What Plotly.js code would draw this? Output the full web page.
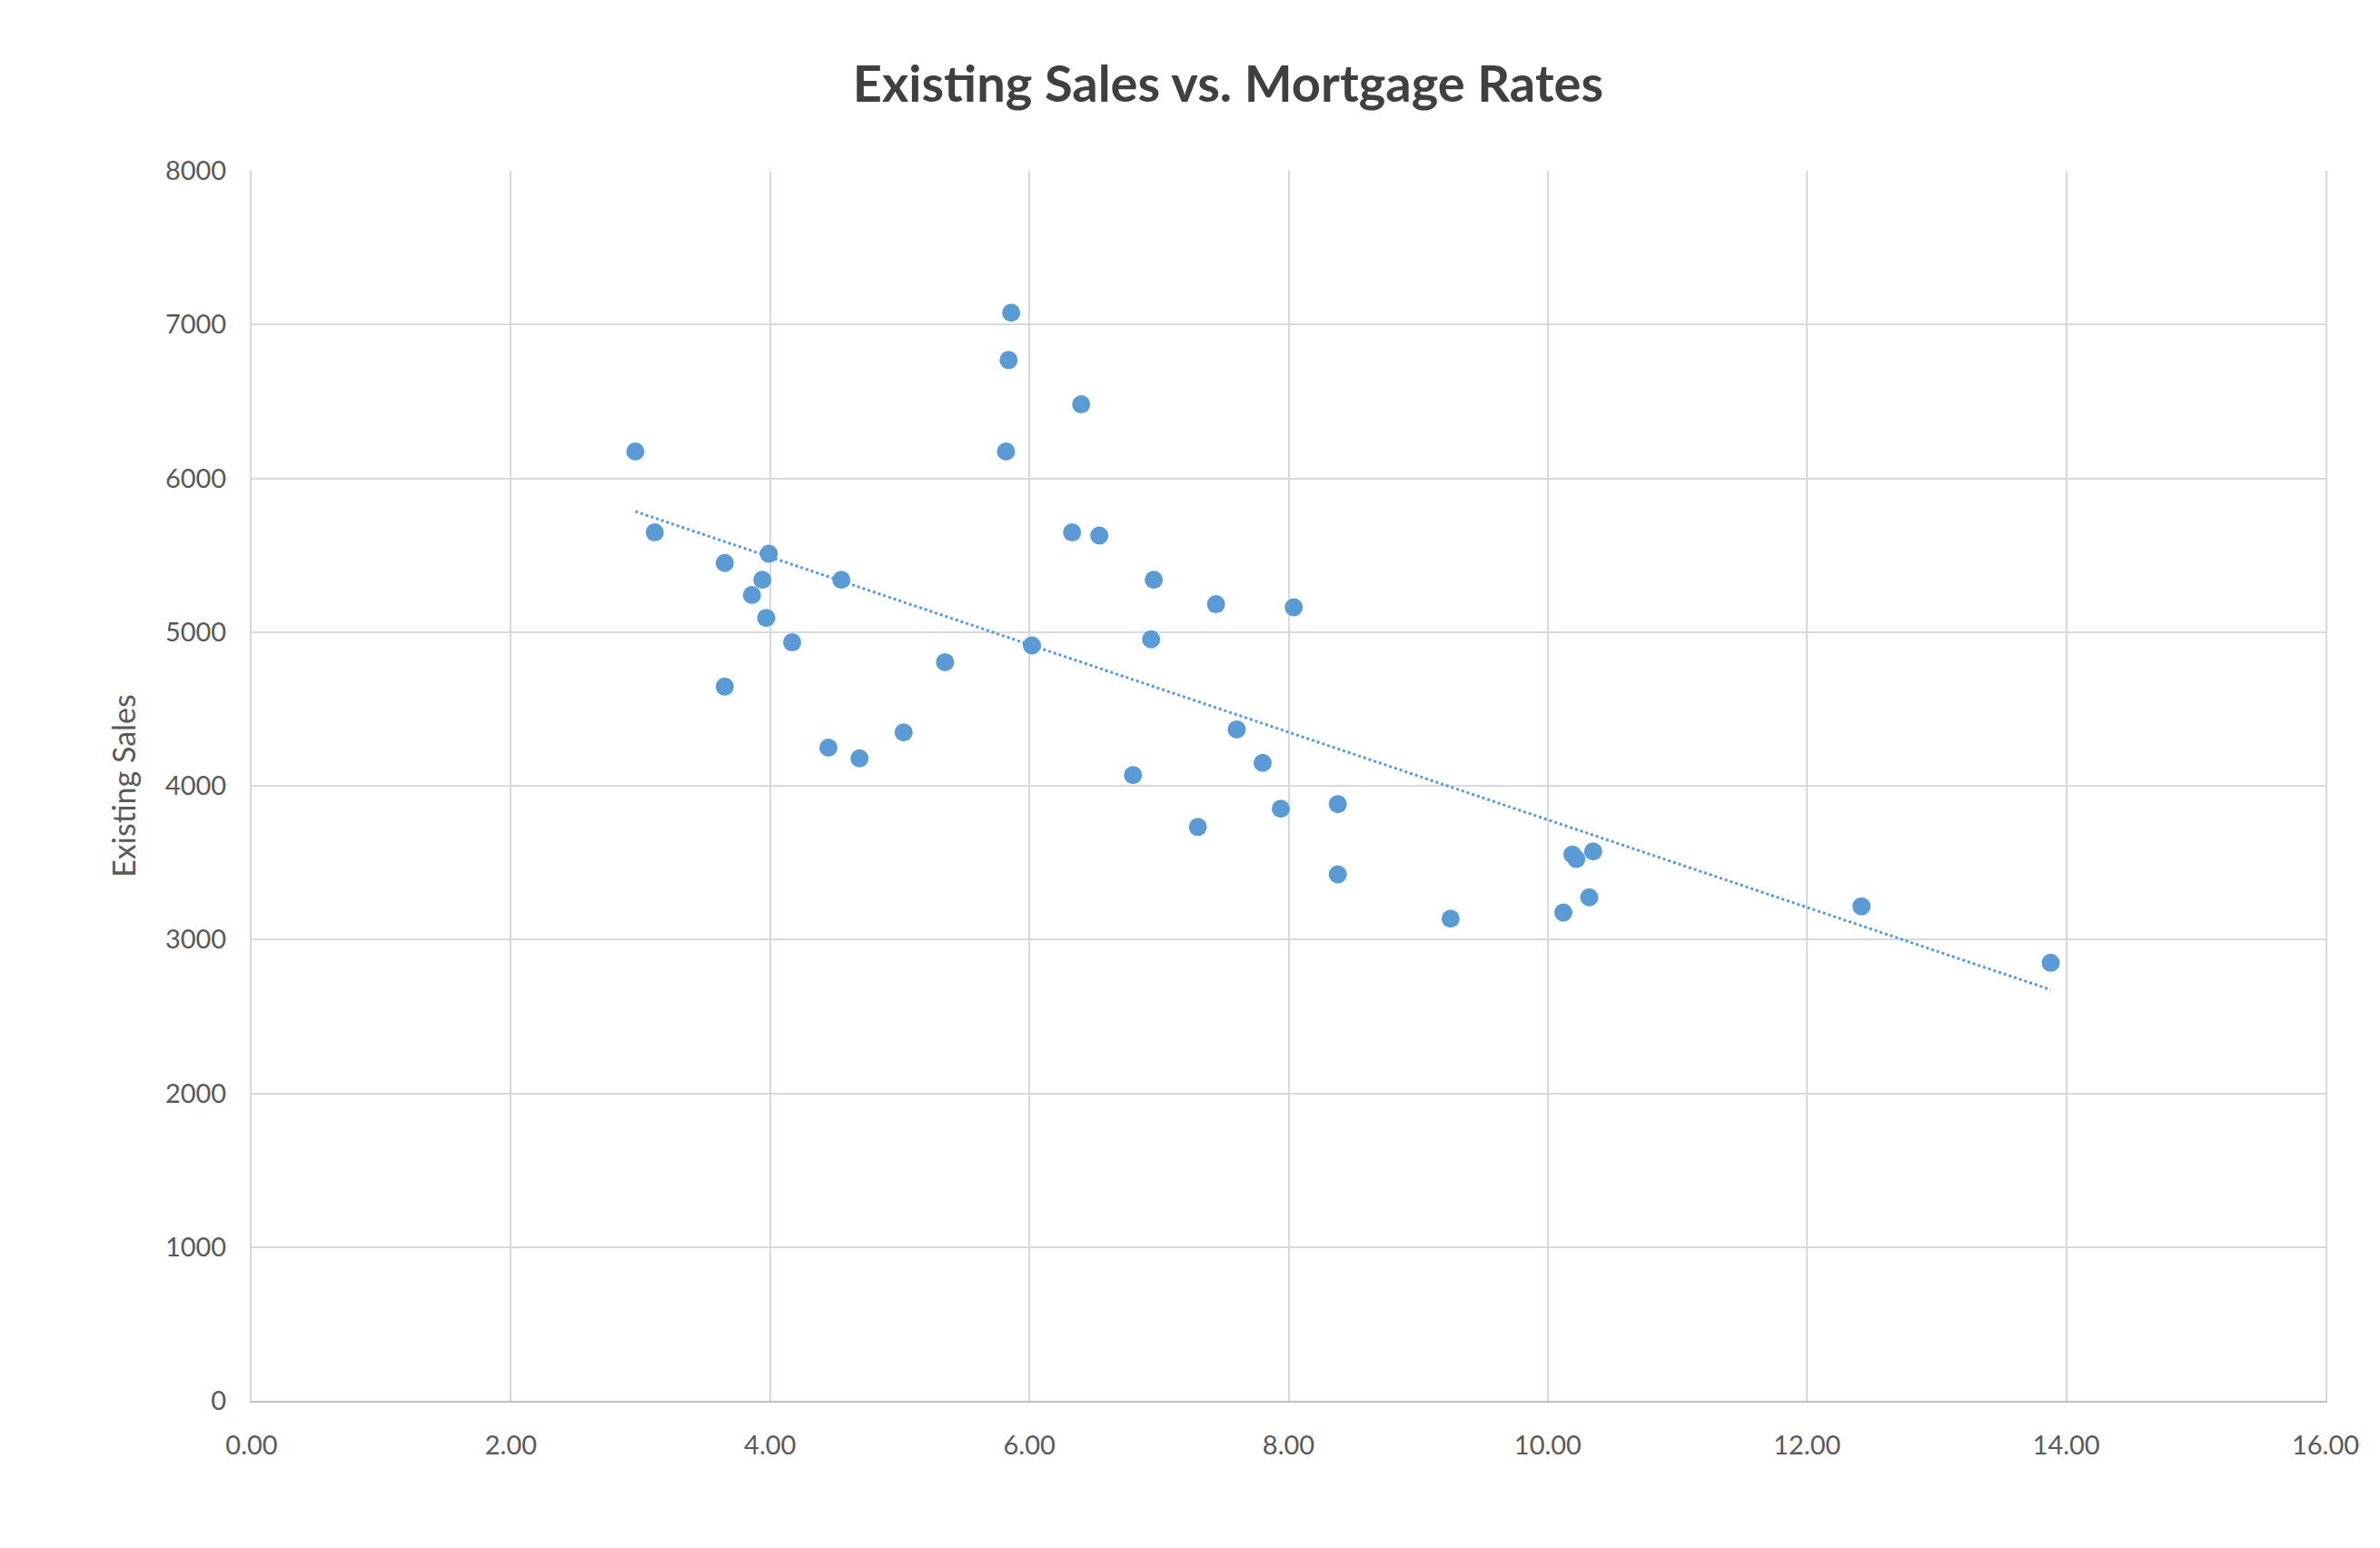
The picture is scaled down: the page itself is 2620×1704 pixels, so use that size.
<!DOCTYPE html>
<html>
<head>
<meta charset="utf-8">
<script src="https://cdn.plot.ly/plotly-3.0.1.min.js"></script>
<style>html,body{margin:0;padding:0;background:#fff}#plot{width:2620px;height:1704px}</style>
</head>
<body>
<div id="plot"></div>
<script>
// mortgage rate (%) vs existing home sales (thousands)
var rates = [2.96, 3.11, 3.65, 3.65, 3.99, 3.94, 3.86, 3.97, 4.17, 4.55,
             4.45, 4.69, 5.03, 5.35, 5.86, 5.84, 5.82, 6.02, 6.40, 6.33,
             6.54, 6.96, 6.94, 6.80, 7.44, 8.04, 7.60, 7.80, 7.30, 7.94,
             8.38, 8.38, 9.25, 10.19, 10.22, 10.35, 10.12, 10.32, 12.42, 13.88];
var sales = [6174, 5648, 5449, 4645, 5509, 5340, 5241, 5092, 4933, 5340,
             4248, 4179, 4347, 4804, 7077, 6769, 6174, 4913, 6481, 5648,
             5628, 5340, 4953, 4070, 5181, 5161, 4367, 4149, 3732, 3851,
             3881, 3424, 3136, 3553, 3524, 3573, 3176, 3275, 3216, 2849];

// least squares trendline
var n = rates.length, sx = 0, sy = 0, sxx = 0, sxy = 0;
for (var i = 0; i < n; i++) {
  sx += rates[i]; sy += sales[i];
  sxx += rates[i] * rates[i]; sxy += rates[i] * sales[i];
}
var slope = (n * sxy - sx * sy) / (n * sxx - sx * sx);
var icpt = (sy - slope * sx) / n;
var xmin = Math.min.apply(null, rates), xmax = Math.max.apply(null, rates);

var font = "Lato, 'Open Sans', sans-serif";
var data = [
  {x: [xmin, xmax], y: [icpt + slope * xmin, icpt + slope * xmax],
   mode: "lines", type: "scatter", line: {color: "#5b9bd5", width: 3, dash: "dot"},
   hoverinfo: "skip"},
  {x: rates, y: sales, mode: "markers", type: "scatter",
   marker: {color: "#5b9bd5", size: 20}}
];

var layout = {
  width: 2620, height: 1704,
  paper_bgcolor: "#fff", plot_bgcolor: "#fff",
  showlegend: false,
  margin: {l: 277, r: 60, t: 188, b: 162},
  font: {family: font, color: "#595959", size: 29},
  title: {text: "Existing Sales vs. Mortgage Rates", x: 0.516, xanchor: "center",
          y: 0.946, yanchor: "middle",
          font: {family: font, size: 56, color: "#404040", weight: "bold"}},
  xaxis: {range: [0, 16], dtick: 2, tickformat: ".2f", showgrid: true,
          gridcolor: "#d9d9d9", gridwidth: 2, zeroline: false,
          showline: true, linecolor: "#bfbfbf", linewidth: 2,
          ticks: "", ticklabelstandoff: 22},
  yaxis: {range: [0, 8000], dtick: 1000, showgrid: true,
          gridcolor: "#d9d9d9", gridwidth: 2, zeroline: false,
          showline: true, linecolor: "#d9d9d9", linewidth: 2, mirror: true,
          ticks: "", ticklabelstandoff: 20,
          title: {text: "Existing Sales", standoff: 22, font: {size: 34}}}
};

Plotly.newPlot("plot", data, layout, {displayModeBar: false});
</script>
</body>
</html>
